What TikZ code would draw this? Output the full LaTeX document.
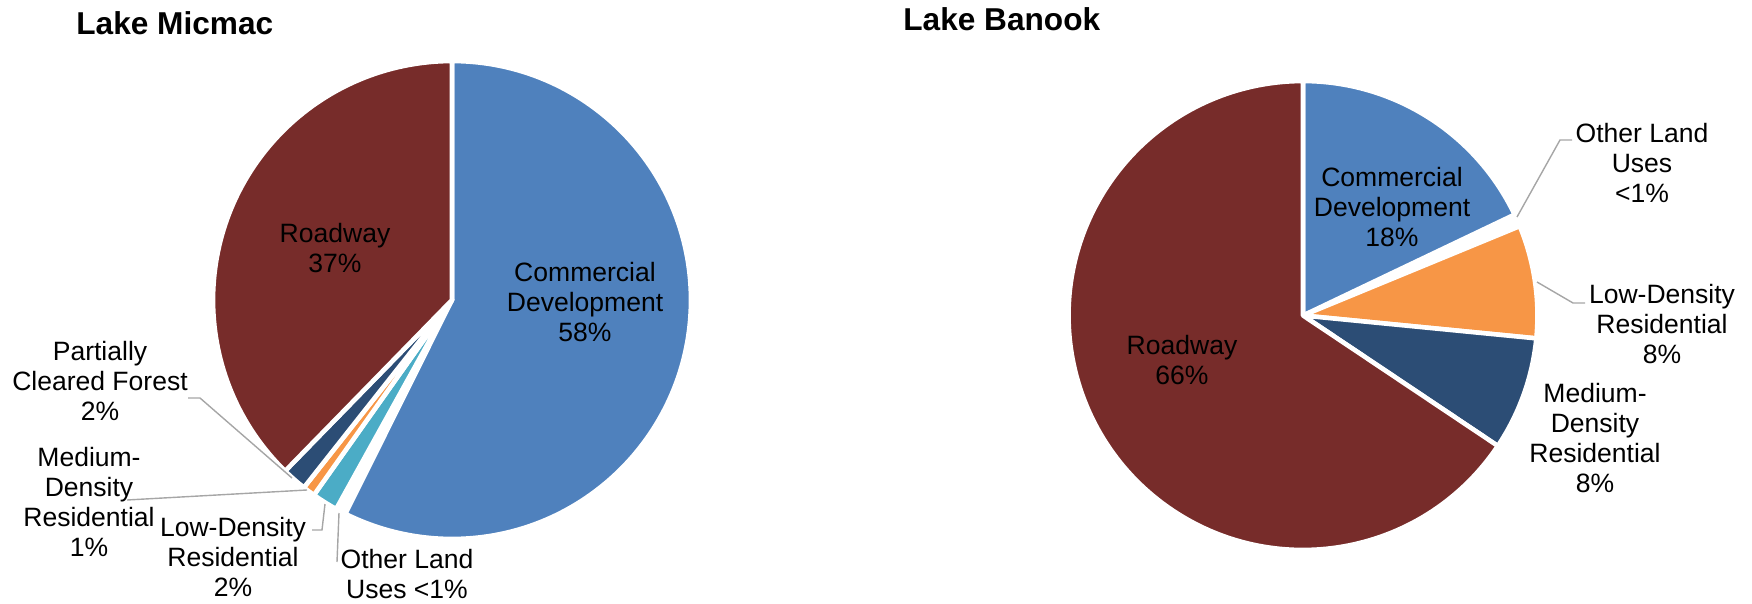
\documentclass[tikz,border=0pt]{standalone}
\usepackage{fontspec}
\setmainfont{Liberation Sans}
\begin{document}
\begin{tikzpicture}[x=0.02cm, y=0.02cm]

    \definecolor{commblue}{HTML}{4F81BD}
    \definecolor{roadred}{HTML}{772C2A}
    \definecolor{lowteal}{HTML}{4BACC6}
    \definecolor{resorange}{HTML}{F79646}
    \definecolor{resnavy}{HTML}{2C4D75}

    \tikzset{slice/.style={%
      draw=white,%
      line width=2.6pt,%
      line join=round}%
    };

    \tikzset{lbl/.style={align=center, inner sep=0pt, font=\fontsize{15.1}{17}\selectfont}};
    \tikzset{ttl/.style={anchor=base west, inner sep=0pt, font=\fontsize{18}{21}\selectfont\bfseries}};
    \tikzset{leader/.style={draw=black!35, line width=0.8pt}};

    \useasboundingbox (0, 0) rectangle (1752, 603);

    %%%%%%%%%%%%%%%
    % Lake Micmac %
    %%%%%%%%%%%%%%%
    \path (76, 568) node [ttl] (mictitle) {Lake Micmac};
    \coordinate (mic) at (452, 303);

    \foreach \a/\b/\col in {90/-116.5/commblue, -119/-125.3/lowteal,
                            -125.3/-128.3/resorange, -128.3/-134.3/resnavy,
                            -134.3/-270/roadred}
      \filldraw [slice, fill=\col] (mic) -- ++(\a:4.78cm)
        arc [start angle=\a, end angle=\b, radius=4.78cm] -- cycle;

    \path (335, 355) node [lbl] (microad) {Roadway\\37\%};
    \path (585, 301) node [lbl] (miccomm) {Commercial\\Development\\58\%};
    \path (100, 222) node [lbl] (micpcf) {Partially\\Cleared Forest\\2\%};
    \path (89, 101) node [lbl] (micmdr) {Medium-\\Density\\Residential\\1\%};
    \path (233, 46) node [lbl] (micldr) {Low-Density\\Residential\\2\%};
    \path (407, 29) node [lbl] (micolu) {Other Land\\Uses <1\%};

    \coordinate (micpcf-a) at (188, 205);
    \coordinate (micpcf-b) at (292, 125);
    \coordinate (micmdr-a) at (127, 103);
    \coordinate (micmdr-b) at (307, 113);
    \coordinate (micldr-a) at (312, 73);
    \coordinate (micldr-b) at (325, 99);
    \coordinate (micolu-a) at (337, 41);
    \coordinate (micolu-b) at (339, 90);

    \draw [leader] (micpcf-a) -- ++(12, 0) -- (micpcf-b);
    \draw [leader] (micmdr-a) -- (micmdr-b);
    \draw [leader] (micldr-a) -- ++(10, 0) -- (micldr-b);
    \draw [leader] (micolu-a) -- (micolu-b);

    %%%%%%%%%%%%%%%
    % Lake Banook %
    %%%%%%%%%%%%%%%
    \path (903, 572) node [ttl] (bantitle) {Lake Banook};
    \coordinate (ban) at (1303, 287.5);

    \foreach \a/\b/\col in {90/25.5/commblue, 22.4/-5.6/resorange,
                            -5.6/-33.8/resnavy, -33.8/-270/roadred}
      \filldraw [slice, fill=\col] (ban) -- ++(\a:4.69cm)
        arc [start angle=\a, end angle=\b, radius=4.69cm] -- cycle;

    \path (1392, 396) node [lbl] (bancomm) {Commercial\\Development\\18\%};
    \path (1182, 243) node [lbl] (banroad) {Roadway\\66\%};
    \path (1642, 440) node [lbl] (banolu) {Other Land\\Uses\\<1\%};
    \path (1662, 279) node [lbl] (banldr) {Low-Density\\Residential\\8\%};
    \path (1595, 165) node [lbl] (banmdr) {Medium-\\Density\\Residential\\8\%};

    \coordinate (banolu-a) at (1572, 463);
    \coordinate (banolu-b) at (1517, 386);
    \coordinate (banldr-a) at (1585, 300);
    \coordinate (banldr-b) at (1537, 321);

    \draw [leader] (banolu-a) -- ++(-12, 0) -- (banolu-b);
    \draw [leader] (banldr-a) -- ++(-12, 0) -- (banldr-b);

  \end{tikzpicture}
\end{document}
